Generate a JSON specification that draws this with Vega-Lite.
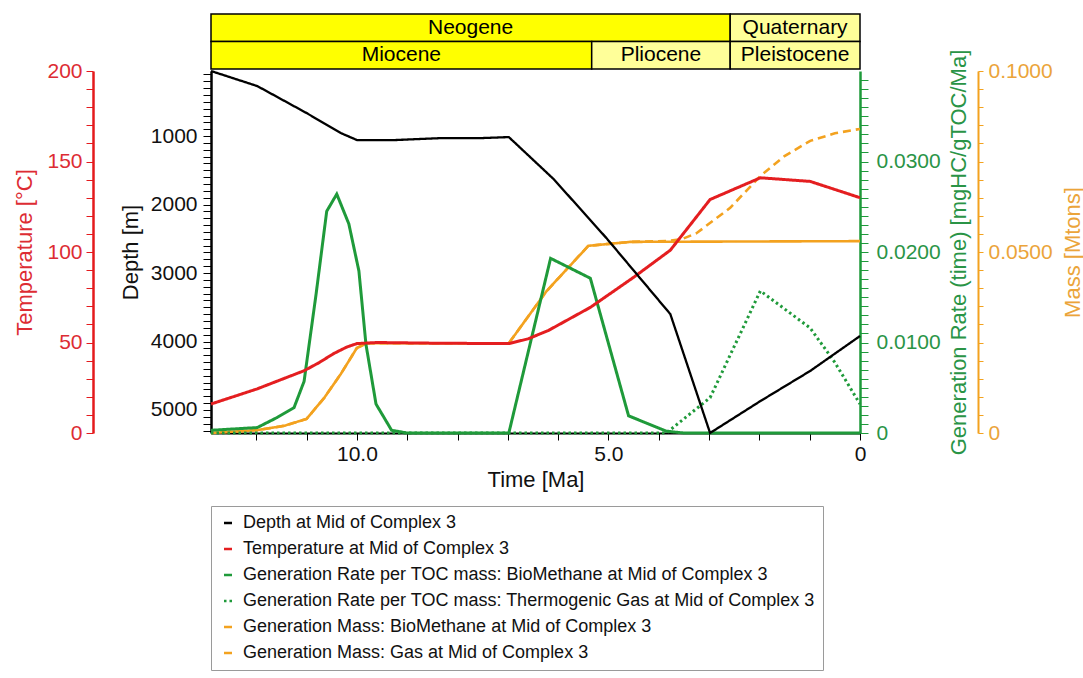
{
  "$schema": "https://vega.github.io/schema/vega-lite/v6.json",
  "padding": {"left": 13, "top": 13, "right": 0, "bottom": 0},
  "bounds": "flush",
  "spacing": 2,
  "resolve": {"scale": {"color": "independent", "strokeDash": "independent"}, "legend": {"color": "independent"}},
  "config": {
    "font": "Liberation Sans",
    "view": {"stroke": null},
    "axis": {"grid": false, "labelFlush": false, "labelOverlap": false, "titleFontWeight": "normal", "labelFontSize": 21, "titleFontSize": 22, "titleLimit": 1000, "labelLimit": 1000},
    "legend": {"orient": "bottom", "direction": "vertical", "symbolType": "stroke", "symbolSize": 64, "symbolStrokeWidth": 2.5, "labelFontSize": 18, "labelColor": "#111", "labelLimit": 1000, "rowPadding": 8, "padding": 8, "strokeColor": "#9a9a9a", "offset": 16, "labelOffset": 6}
  },
  "vconcat": [
    {
      "width": 649,
      "height": 55,
      "data": {"values": [
        {"level": "Period", "name": "Neogene", "start": 12.9, "end": 2.58},
        {"level": "Period", "name": "Quaternary", "start": 2.58, "end": 0},
        {"level": "Epoch", "name": "Miocene", "start": 12.9, "end": 5.333},
        {"level": "Epoch", "name": "Pliocene", "start": 5.333, "end": 2.58},
        {"level": "Epoch", "name": "Pleistocene", "start": 2.58, "end": 0}
      ]},
      "encoding": {
        "y": {"field": "level", "type": "nominal", "scale": {"domain": ["Period", "Epoch"], "paddingInner": 0, "paddingOuter": 0}, "axis": null}
      },
      "layer": [
        {
          "mark": {"type": "rect", "stroke": "#000", "strokeWidth": 1.5},
          "encoding": {
            "x": {"field": "start", "type": "quantitative", "scale": {"domain": [0, 12.9], "reverse": true, "nice": false, "zero": false}, "axis": null},
            "x2": {"field": "end"},
            "color": {"field": "name", "type": "nominal", "scale": {"domain": ["Neogene", "Quaternary", "Miocene", "Pliocene", "Pleistocene"], "range": ["#FFFF00", "#FFFF99", "#FFFF00", "#FFFF99", "#FFFF99"]}, "legend": null}
          }
        },
        {
          "transform": [{"calculate": "(datum.start + datum.end) / 2", "as": "mid"}],
          "mark": {"type": "text", "fontSize": 21, "color": "#000"},
          "encoding": {
            "x": {"field": "mid", "type": "quantitative", "axis": null},
            "text": {"field": "name"}
          }
        }
      ]
    },
    {
      "width": 649,
      "height": 362,
      "encoding": {
        "x": {"field": "t", "type": "quantitative", "title": "Time [Ma]",
          "scale": {"domain": [0, 12.9], "reverse": true, "nice": false, "zero": false},
          "axis": {"values": [0,1,2,3,4,5,6,7,8,9,10,11,12], "labelExpr": "datum.value === 0 ? '0' : (datum.value % 5 === 0 ? format(datum.value, '.1f') : '')", "tickSize": 7, "tickColor": "#000", "domainColor": "#000", "domainWidth": 2, "labelColor": "#111", "titleColor": "#111", "labelPadding": 3, "titlePadding": 5}},
        "color": {"field": "s", "type": "nominal", "title": null,
          "scale": {"domain": ["Depth at Mid of Complex 3", "Temperature at Mid of Complex 3", "Generation Rate per TOC mass: BioMethane at Mid of Complex 3", "Generation Rate per TOC mass: Thermogenic Gas at Mid of Complex 3", "Generation Mass: BioMethane at Mid of Complex 3", "Generation Mass: Gas at Mid of Complex 3"],
            "range": ["#000000", "#E41E20", "#1F9A3A", "#1F9A3A", "#F3A21F", "#F3A21F"]}},
        "strokeDash": {"field": "s", "type": "nominal", "title": null,
          "scale": {"domain": ["Depth at Mid of Complex 3", "Temperature at Mid of Complex 3", "Generation Rate per TOC mass: BioMethane at Mid of Complex 3", "Generation Rate per TOC mass: Thermogenic Gas at Mid of Complex 3", "Generation Mass: BioMethane at Mid of Complex 3", "Generation Mass: Gas at Mid of Complex 3"],
            "range": [[1, 0], [1, 0], [1, 0], [2.5, 3], [1, 0], [8, 5]]}}
      },
      "layer": [
        {
          "data": {"values": [
            {"s": "Generation Mass: Gas at Mid of Complex 3", "t": 12.9, "v": 0},
            {"s": "Generation Mass: Gas at Mid of Complex 3", "t": 11.98, "v": 0.0008},
            {"s": "Generation Mass: Gas at Mid of Complex 3", "t": 11.44, "v": 0.002},
            {"s": "Generation Mass: Gas at Mid of Complex 3", "t": 11.0, "v": 0.0039},
            {"s": "Generation Mass: Gas at Mid of Complex 3", "t": 10.65, "v": 0.0097},
            {"s": "Generation Mass: Gas at Mid of Complex 3", "t": 10.32, "v": 0.0163},
            {"s": "Generation Mass: Gas at Mid of Complex 3", "t": 10.0, "v": 0.0235},
            {"s": "Generation Mass: Gas at Mid of Complex 3", "t": 9.8, "v": 0.0248},
            {"s": "Generation Mass: Gas at Mid of Complex 3", "t": 6.98, "v": 0.0248},
            {"s": "Generation Mass: Gas at Mid of Complex 3", "t": 6.23, "v": 0.0392},
            {"s": "Generation Mass: Gas at Mid of Complex 3", "t": 5.4, "v": 0.0517},
            {"s": "Generation Mass: Gas at Mid of Complex 3", "t": 4.56, "v": 0.0528},
            {"s": "Generation Mass: Gas at Mid of Complex 3", "t": 3.85, "v": 0.053},
            {"s": "Generation Mass: Gas at Mid of Complex 3", "t": 3.55, "v": 0.0535},
            {"s": "Generation Mass: Gas at Mid of Complex 3", "t": 3.25, "v": 0.0552},
            {"s": "Generation Mass: Gas at Mid of Complex 3", "t": 2.58, "v": 0.0622},
            {"s": "Generation Mass: Gas at Mid of Complex 3", "t": 1.98, "v": 0.071},
            {"s": "Generation Mass: Gas at Mid of Complex 3", "t": 1.5, "v": 0.0765},
            {"s": "Generation Mass: Gas at Mid of Complex 3", "t": 0.99, "v": 0.0807},
            {"s": "Generation Mass: Gas at Mid of Complex 3", "t": 0.5, "v": 0.0828},
            {"s": "Generation Mass: Gas at Mid of Complex 3", "t": 0, "v": 0.084},
            {"s": "Generation Mass: BioMethane at Mid of Complex 3", "t": 12.9, "v": 0},
            {"s": "Generation Mass: BioMethane at Mid of Complex 3", "t": 11.98, "v": 0.0008},
            {"s": "Generation Mass: BioMethane at Mid of Complex 3", "t": 11.44, "v": 0.002},
            {"s": "Generation Mass: BioMethane at Mid of Complex 3", "t": 11.0, "v": 0.0039},
            {"s": "Generation Mass: BioMethane at Mid of Complex 3", "t": 10.65, "v": 0.0097},
            {"s": "Generation Mass: BioMethane at Mid of Complex 3", "t": 10.32, "v": 0.0163},
            {"s": "Generation Mass: BioMethane at Mid of Complex 3", "t": 10.0, "v": 0.0235},
            {"s": "Generation Mass: BioMethane at Mid of Complex 3", "t": 9.8, "v": 0.0248},
            {"s": "Generation Mass: BioMethane at Mid of Complex 3", "t": 6.98, "v": 0.0248},
            {"s": "Generation Mass: BioMethane at Mid of Complex 3", "t": 6.23, "v": 0.0392},
            {"s": "Generation Mass: BioMethane at Mid of Complex 3", "t": 5.4, "v": 0.0517},
            {"s": "Generation Mass: BioMethane at Mid of Complex 3", "t": 4.56, "v": 0.0528},
            {"s": "Generation Mass: BioMethane at Mid of Complex 3", "t": 0, "v": 0.053}
          ]},
          "mark": {"type": "line", "strokeWidth": 2.6},
          "encoding": {
            "y": {"field": "v", "type": "quantitative", "scale": {"domain": [0, 0.1], "nice": false, "zero": false},
              "axis": {"orient": "right", "offset": 118, "title": "Mass [Mtons]", "values": [0,0.005,0.01,0.015,0.02,0.025,0.03,0.035,0.04,0.045,0.05,0.055,0.06,0.065,0.07,0.075,0.08,0.085,0.09,0.095,0.1],
                "labelExpr": "datum.value === 0 ? '0' : (round(datum.value * 1000) % 50 === 0 ? format(datum.value, '.4f') : '')",
                "tickSize": 5, "labelPadding": 5, "titlePadding": 10, "titleAngle": 270, "titleBaseline": "top",
                "domainColor": "#F3A21F", "domainWidth": 2, "tickColor": "#F3A21F", "labelColor": "#EBA43A", "titleColor": "#EBA43A"}}
          }
        },
        {
          "data": {"values": [
            {"s": "Generation Rate per TOC mass: Thermogenic Gas at Mid of Complex 3", "t": 12.9, "v": 0},
            {"s": "Generation Rate per TOC mass: Thermogenic Gas at Mid of Complex 3", "t": 3.85, "v": 0},
            {"s": "Generation Rate per TOC mass: Thermogenic Gas at Mid of Complex 3", "t": 2.98, "v": 0.0039},
            {"s": "Generation Rate per TOC mass: Thermogenic Gas at Mid of Complex 3", "t": 1.98, "v": 0.0157},
            {"s": "Generation Rate per TOC mass: Thermogenic Gas at Mid of Complex 3", "t": 0.99, "v": 0.0116},
            {"s": "Generation Rate per TOC mass: Thermogenic Gas at Mid of Complex 3", "t": 0.5, "v": 0.0078},
            {"s": "Generation Rate per TOC mass: Thermogenic Gas at Mid of Complex 3", "t": 0, "v": 0.0032},
            {"s": "Generation Rate per TOC mass: BioMethane at Mid of Complex 3", "t": 12.9, "v": 0.0003},
            {"s": "Generation Rate per TOC mass: BioMethane at Mid of Complex 3", "t": 11.98, "v": 0.0006},
            {"s": "Generation Rate per TOC mass: BioMethane at Mid of Complex 3", "t": 11.59, "v": 0.0017},
            {"s": "Generation Rate per TOC mass: BioMethane at Mid of Complex 3", "t": 11.25, "v": 0.0028},
            {"s": "Generation Rate per TOC mass: BioMethane at Mid of Complex 3", "t": 11.05, "v": 0.0057},
            {"s": "Generation Rate per TOC mass: BioMethane at Mid of Complex 3", "t": 10.81, "v": 0.0154},
            {"s": "Generation Rate per TOC mass: BioMethane at Mid of Complex 3", "t": 10.6, "v": 0.0245},
            {"s": "Generation Rate per TOC mass: BioMethane at Mid of Complex 3", "t": 10.4, "v": 0.0264},
            {"s": "Generation Rate per TOC mass: BioMethane at Mid of Complex 3", "t": 10.16, "v": 0.0231},
            {"s": "Generation Rate per TOC mass: BioMethane at Mid of Complex 3", "t": 9.96, "v": 0.0179},
            {"s": "Generation Rate per TOC mass: BioMethane at Mid of Complex 3", "t": 9.82, "v": 0.0098},
            {"s": "Generation Rate per TOC mass: BioMethane at Mid of Complex 3", "t": 9.62, "v": 0.0032},
            {"s": "Generation Rate per TOC mass: BioMethane at Mid of Complex 3", "t": 9.31, "v": 0.0003},
            {"s": "Generation Rate per TOC mass: BioMethane at Mid of Complex 3", "t": 9.0, "v": 0},
            {"s": "Generation Rate per TOC mass: BioMethane at Mid of Complex 3", "t": 6.98, "v": 0},
            {"s": "Generation Rate per TOC mass: BioMethane at Mid of Complex 3", "t": 6.15, "v": 0.0193},
            {"s": "Generation Rate per TOC mass: BioMethane at Mid of Complex 3", "t": 5.36, "v": 0.0171},
            {"s": "Generation Rate per TOC mass: BioMethane at Mid of Complex 3", "t": 4.6, "v": 0.0019},
            {"s": "Generation Rate per TOC mass: BioMethane at Mid of Complex 3", "t": 3.85, "v": 0.0002},
            {"s": "Generation Rate per TOC mass: BioMethane at Mid of Complex 3", "t": 3.5, "v": 0},
            {"s": "Generation Rate per TOC mass: BioMethane at Mid of Complex 3", "t": 0, "v": 0}
          ]},
          "mark": {"type": "line", "strokeWidth": 3},
          "encoding": {
            "y": {"field": "v", "type": "quantitative", "scale": {"domain": [0, 0.04], "nice": false, "zero": false},
              "axis": {"orient": "right", "offset": 0, "title": "Generation Rate (time) [mgHC/gTOC/Ma]",
                "values": [0,0.001,0.002,0.003,0.004,0.005,0.006,0.007,0.008,0.009,0.01,0.011,0.012,0.013,0.014,0.015,0.016,0.017,0.018,0.019,0.02,0.021,0.022,0.023,0.024,0.025,0.026,0.027,0.028,0.029,0.03,0.031,0.032,0.033,0.034,0.035,0.036,0.037,0.038,0.039],
                "labelExpr": "datum.value === 0 ? '0' : (round(datum.value * 1000) % 10 === 0 ? format(datum.value, '.4f') : '')",
                "tickSize": 8, "labelPadding": 8, "titlePadding": 8, "titleAngle": 270, "titleBaseline": "top",
                "domainColor": "#1E9A3A", "domainWidth": 2.5, "tickColor": "#1E9A3A", "labelColor": "#2A9446", "titleColor": "#2A9446",
                "encode": {"ticks": {"update": {"x2": {"signal": "round(datum.value * 1000) % 10 === 0 ? 8 : 4"}}}}}}
          }
        },
        {
          "data": {"values": [
            {"s": "Temperature at Mid of Complex 3", "t": 12.9, "v": 16},
            {"s": "Temperature at Mid of Complex 3", "t": 11.98, "v": 24.4},
            {"s": "Temperature at Mid of Complex 3", "t": 11.05, "v": 34.4},
            {"s": "Temperature at Mid of Complex 3", "t": 10.75, "v": 38.9},
            {"s": "Temperature at Mid of Complex 3", "t": 10.46, "v": 43.9},
            {"s": "Temperature at Mid of Complex 3", "t": 10.2, "v": 47.5},
            {"s": "Temperature at Mid of Complex 3", "t": 10.0, "v": 49.4},
            {"s": "Temperature at Mid of Complex 3", "t": 9.6, "v": 50},
            {"s": "Temperature at Mid of Complex 3", "t": 8.41, "v": 49.6},
            {"s": "Temperature at Mid of Complex 3", "t": 6.98, "v": 49.4},
            {"s": "Temperature at Mid of Complex 3", "t": 6.6, "v": 52},
            {"s": "Temperature at Mid of Complex 3", "t": 6.19, "v": 56.7},
            {"s": "Temperature at Mid of Complex 3", "t": 5.36, "v": 69.4},
            {"s": "Temperature at Mid of Complex 3", "t": 4.5, "v": 86},
            {"s": "Temperature at Mid of Complex 3", "t": 3.77, "v": 101},
            {"s": "Temperature at Mid of Complex 3", "t": 2.98, "v": 129},
            {"s": "Temperature at Mid of Complex 3", "t": 1.98, "v": 141},
            {"s": "Temperature at Mid of Complex 3", "t": 0.99, "v": 139},
            {"s": "Temperature at Mid of Complex 3", "t": 0, "v": 130}
          ]},
          "mark": {"type": "line", "strokeWidth": 3},
          "encoding": {
            "y": {"field": "v", "type": "quantitative", "scale": {"domain": [0, 200], "nice": false, "zero": false},
              "axis": {"orient": "left", "offset": 118, "title": "Temperature [°C]",
                "values": [0,10,20,30,40,50,60,70,80,90,100,110,120,130,140,150,160,170,180,190,200],
                "labelExpr": "datum.value % 50 === 0 ? format(datum.value, 'd') : ''",
                "tickSize": 7, "labelPadding": 4, "titlePadding": 10,
                "domainColor": "#E41A1C", "domainWidth": 2.5, "tickColor": "#E41A1C", "labelColor": "#DD2C33", "titleColor": "#DD2C33",
                "encode": {"ticks": {"update": {"x2": {"signal": "datum.value % 50 === 0 ? -7 : -3"}}}}}}
          }
        },
        {
          "data": {"values": [
            {"s": "Depth at Mid of Complex 3", "t": 12.9, "v": 50},
            {"s": "Depth at Mid of Complex 3", "t": 11.98, "v": 270},
            {"s": "Depth at Mid of Complex 3", "t": 11.0, "v": 664},
            {"s": "Depth at Mid of Complex 3", "t": 10.32, "v": 956},
            {"s": "Depth at Mid of Complex 3", "t": 10.0, "v": 1058},
            {"s": "Depth at Mid of Complex 3", "t": 9.23, "v": 1058},
            {"s": "Depth at Mid of Complex 3", "t": 8.33, "v": 1030},
            {"s": "Depth at Mid of Complex 3", "t": 7.54, "v": 1030},
            {"s": "Depth at Mid of Complex 3", "t": 6.98, "v": 1015},
            {"s": "Depth at Mid of Complex 3", "t": 6.09, "v": 1628},
            {"s": "Depth at Mid of Complex 3", "t": 5.04, "v": 2490},
            {"s": "Depth at Mid of Complex 3", "t": 3.77, "v": 3600},
            {"s": "Depth at Mid of Complex 3", "t": 2.98, "v": 5336},
            {"s": "Depth at Mid of Complex 3", "t": 1.98, "v": 4870},
            {"s": "Depth at Mid of Complex 3", "t": 0.99, "v": 4430},
            {"s": "Depth at Mid of Complex 3", "t": 0, "v": 3920}
          ]},
          "mark": {"type": "line", "strokeWidth": 2.3},
          "encoding": {
            "y": {"field": "v", "type": "quantitative", "scale": {"domain": [50, 5336], "reverse": true, "nice": false, "zero": false},
              "axis": {"orient": "left", "offset": 0, "title": "Depth [m]",
                "values": [100,200,300,400,500,600,700,800,900,1000,1100,1200,1300,1400,1500,1600,1700,1800,1900,2000,2100,2200,2300,2400,2500,2600,2700,2800,2900,3000,3100,3200,3300,3400,3500,3600,3700,3800,3900,4000,4100,4200,4300,4400,4500,4600,4700,4800,4900,5000,5100,5200,5300],
                "labelExpr": "datum.value % 1000 === 0 ? format(datum.value, 'd') : ''",
                "tickSize": 8, "labelPadding": 6, "titlePadding": 8,
                "domainColor": "#000", "domainWidth": 2.5, "tickColor": "#000", "labelColor": "#111", "titleColor": "#111",
                "encode": {"ticks": {"update": {"x2": {"signal": "datum.value % 1000 === 0 ? -8 : -4"}}}}}}
          }
        }
      ],
      "resolve": {"scale": {"y": "independent"}}
    }
  ]
}
